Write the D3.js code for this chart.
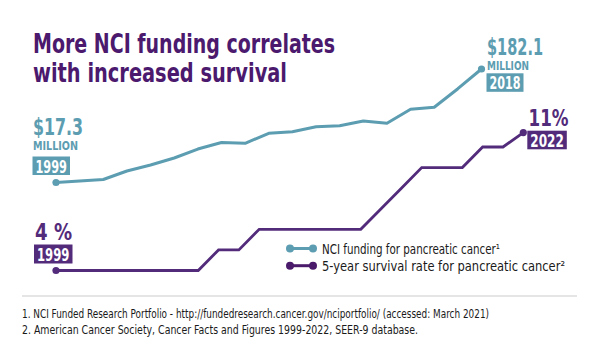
<!DOCTYPE html>
<html>
<head>
<meta charset="utf-8">
<script src="https://cdn.jsdelivr.net/npm/d3@7"></script>
<style>
  html, body { margin: 0; padding: 0; background: #fff; }
  svg { display: block; }
  text { font-family: "Liberation Sans Narrow", "DejaVu Sans Condensed", sans-serif; }
</style>
</head>
<body>
<svg id="chart" width="600" height="350"></svg>
<script>
// ---- Data ----
const titleLines = ["More NCI funding correlates", "with increased survival"];

const fundingYears = [2000, 2001, 2002, 2003, 2004, 2005, 2006, 2007, 2008, 2009,
                      2010, 2011, 2012, 2013, 2014, 2015, 2016, 2017, 2018];
const fundingValues = [17.3, 19.5, 21.7, 34.0, 42.7, 52.9, 65.9, 75.4, 74.2, 88.7,
                       91.1, 98.3, 99.8, 106.6, 103.3, 123.6, 126.5, 153.5, 182.1];

const survivalYears = [1999, 2000, 2001, 2002, 2003, 2004, 2005, 2006, 2007, 2008,
                       2009, 2010, 2011, 2012, 2013, 2014, 2015, 2016, 2017, 2018,
                       2019, 2020, 2021, 2022];
const survivalValues = [4, 4, 4, 4, 4, 4, 4, 4, 5, 5,
                        6, 6, 6, 6, 6, 6, 7, 8, 9, 9,
                        9, 10, 10, 10.7];

const fundingStartLabel = ["$17.3", "MILLION", "1999"];
const fundingEndLabel = ["$182.1", "MILLION", "2018"];
const survivalStartLabel = ["4 %", "1999"];
const survivalEndLabel = ["11%", "2022"];

const legendLabels = ["NCI funding for pancreatic cancer\u00B9",
                      "5-year survival rate for pancreatic cancer\u00B2"];
const footnotes = [
  "1. NCI Funded Research Portfolio - http://fundedresearch.cancer.gov/nciportfolio/ (accessed: March 2021)",
  "2. American Cancer Society, Cancer Facts and Figures 1999-2022, SEER-9 database."
];

// ---- Styles ----
const TEAL = "#5c9db1";
const PURPLE_TITLE = "#4b196d";
const PURPLE = "#532b7b";

const svg = d3.select("#chart");
svg.append("rect").attr("width", 600).attr("height", 350).attr("fill", "#fff");

// ---- Scales ----
const xF = d3.scaleLinear().domain([fundingYears[0], fundingYears[fundingYears.length - 1]]).range([56, 481.5]);
const yF = d3.scaleLinear().domain([17.3, 182.1]).range([182.5, 69]);
const xS = d3.scaleLinear().domain([1999, 2022]).range([56, 523.3]);
const yS = d3.scaleLinear().domain([4, 10]).range([270.5, 147]);

// ---- Title ----
const tW = [302, 254];
svg.selectAll("text.title").data(titleLines).join("text")
  .attr("class", "title")
  .attr("x", 33)
  .attr("y", (d, i) => 53 + i * 28.5)
  .attr("font-size", 27)
  .attr("font-weight", "bold")
  .attr("fill", PURPLE_TITLE)
  .attr("textLength", (d, i) => tW[i])
  .attr("lengthAdjust", "spacingAndGlyphs")
  .text(d => d);

// ---- Lines ----
const fData = fundingYears.map((y, i) => ({x: y, v: fundingValues[i]}));
const sData = survivalYears.map((y, i) => ({x: y, v: survivalValues[i]}));

svg.append("path").datum(fData)
  .attr("fill", "none").attr("stroke", TEAL).attr("stroke-width", 3)
  .attr("stroke-linejoin", "round")
  .attr("d", d3.line().x(d => xF(d.x)).y(d => yF(d.v)));

svg.append("path").datum(sData)
  .attr("fill", "none").attr("stroke", PURPLE).attr("stroke-width", 2.8)
  .attr("stroke-linejoin", "miter")
  .attr("d", d3.line().x(d => xS(d.x)).y(d => yS(d.v)));

// end dots
[fData[0], fData[fData.length - 1]].forEach(d =>
  svg.append("circle").attr("cx", xF(d.x)).attr("cy", yF(d.v)).attr("r", 3.6).attr("fill", TEAL));
[sData[0], sData[sData.length - 1]].forEach(d =>
  svg.append("circle").attr("cx", xS(d.x)).attr("cy", yS(d.v)).attr("r", 3.6).attr("fill", PURPLE));

// ---- Annotations ----
function bigLabel(x, y, txt, color, len, fs) {
  svg.append("text").attr("x", x).attr("y", y).attr("font-size", fs || 23.5).attr("font-weight", "bold")
    .attr("fill", color).attr("textLength", len).attr("lengthAdjust", "spacingAndGlyphs").text(txt);
}
function smallLabel(x, y, txt, color, len) {
  svg.append("text").attr("x", x).attr("y", y).attr("font-size", 12).attr("font-weight", "bold")
    .attr("fill", color).attr("textLength", len).attr("lengthAdjust", "spacingAndGlyphs").text(txt);
}
function boxLabel(x, y, w, h, txt, color) {
  svg.append("rect").attr("x", x).attr("y", y).attr("width", w).attr("height", h).attr("fill", color);
  svg.append("text").attr("x", x + w / 2).attr("y", y + h - 2.5).attr("text-anchor", "middle")
    .attr("font-size", 18).attr("font-weight", "bold").attr("fill", "#fff")
    .attr("textLength", w - 6).attr("lengthAdjust", "spacingAndGlyphs").text(txt);
}

bigLabel(33, 134.5, fundingStartLabel[0], TEAL, 50);
smallLabel(33, 150, fundingStartLabel[1], TEAL, 45);
boxLabel(32.5, 156.5, 37.5, 18.5, fundingStartLabel[2], TEAL);

bigLabel(487, 54.5, fundingEndLabel[0], TEAL, 56);
smallLabel(487, 70, fundingEndLabel[1], TEAL, 42);
boxLabel(486.5, 73.3, 37, 18.5, fundingEndLabel[2], TEAL);

bigLabel(35, 240, survivalStartLabel[0], PURPLE, 37);
boxLabel(34, 244.5, 38.5, 19, survivalStartLabel[1], PURPLE);

bigLabel(528.5, 125.8, survivalEndLabel[0], PURPLE, 40, 22.5);
boxLabel(527.3, 130.7, 39.5, 18.6, survivalEndLabel[1], PURPLE);

// ---- Legend ----
const legColors = [TEAL, "#4a1a6b"];
const legLen = [178, 243];
legendLabels.forEach((lab, i) => {
  const cy = 248.5 + i * 17.2;
  const g = svg.append("g");
  g.append("line").attr("x1", 290).attr("x2", 313).attr("y1", cy).attr("y2", cy)
    .attr("stroke", legColors[i]).attr("stroke-width", 3);
  g.append("circle").attr("cx", 290).attr("cy", cy).attr("r", 4).attr("fill", legColors[i]);
  g.append("circle").attr("cx", 313).attr("cy", cy).attr("r", 4).attr("fill", legColors[i]);
  g.append("text").attr("x", 322).attr("y", cy + 5).attr("font-size", 13.5).attr("fill", "#1a1a1a")
    .attr("textLength", legLen[i]).attr("lengthAdjust", "spacingAndGlyphs").text(lab);
});

// ---- Separator & footnotes ----
svg.append("line").attr("x1", 22).attr("x2", 577).attr("y1", 296).attr("y2", 296)
  .attr("stroke", "#dcdcdc").attr("stroke-width", 1.5);

const fnLen = [467, 396];
footnotes.forEach((t, i) => {
  svg.append("text").attr("x", 22).attr("y", 318 + i * 16).attr("font-size", 11.5)
    .attr("fill", "#1a1a1a").attr("textLength", fnLen[i]).attr("lengthAdjust", "spacingAndGlyphs").text(t);
});
</script>
</body>
</html>
